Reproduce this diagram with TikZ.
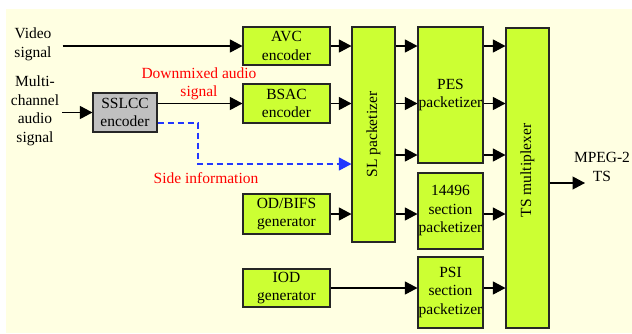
\documentclass[tikz,border=0pt]{standalone}
\usepackage{fontspec}
\setmainfont{Liberation Serif}
\usetikzlibrary{arrows.meta}
\definecolor{bgc}{HTML}{FFFFE2}
\definecolor{boxc}{HTML}{CCFF33}
\definecolor{grayc}{HTML}{C0C0C0}
\definecolor{bluec}{RGB}{35,55,255}
\begin{document}
\begin{tikzpicture}[x=1pt,y=-1pt,
  every node/.style={font=\fontsize{15.5}{18.5}\selectfont},
  blk/.style={draw=black!85,line width=1.1pt,fill=boxc,align=center,inner sep=0pt},
  txt/.style={align=center,inner sep=2pt},
  arr/.style={line width=1.1pt,-{Triangle[length=12.5pt,width=13pt]}},
  side/.style={draw=bluec,line width=1.1pt,dash pattern=on 6pt off 4pt,-{Triangle[length=12.5pt,width=13pt,fill=bluec]}},
  redtxt/.style={text=red,align=center,inner sep=0pt}]
\useasboundingbox (0,0) rectangle (632,333);
\fill[bgc] (6,9) rectangle (632,333);
% boxes
\node[blk,minimum width=87pt,minimum height=38pt] (avc) at (286.5,46) {AVC\\encoder};
\node[blk,minimum width=87pt,minimum height=39pt] (bsac) at (286.5,103.5) {BSAC\\encoder};
\node[blk,fill=grayc,minimum width=64pt,minimum height=39pt] (sslcc) at (125,112.5) {SSLCC\\encoder};
\node[blk,minimum width=87pt,minimum height=40pt] (odbifs) at (286.5,214) {OD/BIFS\\generator};
\node[blk,minimum width=87pt,minimum height=38pt] (iod) at (286.5,288) {IOD\\generator};
\node[blk,minimum width=43pt,minimum height=215pt] (sl) at (373.5,134.5) {};
\node[rotate=90] (sltxt) at (sl) {SL packetizer};
\node[blk,minimum width=65pt,minimum height=136pt] (pes) at (450.5,95) {PES\\packetizer};
\node[blk,minimum width=65pt,minimum height=76pt] (s14496) at (450.5,211) {14496\\section\\packetizer};
\node[blk,minimum width=65pt,minimum height=71pt] (psi) at (450.5,292.5) {PSI\\section\\packetizer};
\node[blk,minimum width=43pt,minimum height=300pt] (ts) at (527.5,178) {};
\node[rotate=90] (tstxt) at (527.5,170.5) {TS multiplexer};
% texts
\node[txt] (video) at (33,44.5) {Video\\signal};
\node[txt] (multi) at (35,111) {Multi-\\channel\\audio\\signal};
\node[redtxt] (down) at (199,84) {Downmixed audio\\signal};
\node[redtxt] (sideinfo) at (206,178) {Side information};
\node[txt] (mpeg) at (602,167) {MPEG-2\\TS};
% coordinates
\coordinate (r3) at (395,155);
\coordinate (sb) at (198,164);
\coordinate (tsout) at (585,183);
% arrows
\draw[arr] ([xshift=9pt]video.east |- avc.west) -- (avc.west);
\draw[arr] ([xshift=1pt]multi.east |- sslcc.west) -- (sslcc.west);
\draw[arr] (sslcc.east |- bsac.west) -- (bsac.west);
\draw[side] ([yshift=-10.5pt]sslcc.east) -| (sb) -- (sb -| sl.west);
\draw[arr] (avc.east) -- (avc.east -| sl.west);
\draw[arr] (bsac.east) -- (bsac.east -| sl.west);
\draw[arr] (odbifs.east) -- (odbifs.east -| sl.west);
\draw[arr] (sl.east |- avc.east) -- (pes.west |- avc.east);
\draw[arr] (sl.east |- bsac.east) -- (pes.west |- bsac.east);
\draw[arr] (r3) -- (r3 -| pes.west);
\draw[arr] (sl.east |- odbifs.east) -- (s14496.west |- odbifs.east);
\draw[arr] (pes.east |- avc.east) -- (ts.west |- avc.east);
\draw[arr] (pes.east |- bsac.east) -- (ts.west |- bsac.east);
\draw[arr] (pes.east |- r3) -- (ts.west |- r3);
\draw[arr] (s14496.east |- odbifs.east) -- (ts.west |- odbifs.east);
\draw[arr] (iod.east) -- (psi.west |- iod.east);
\draw[arr] (psi.east |- iod.east) -- (ts.west |- iod.east);
\draw[arr] (ts.east |- tsout) -- (tsout);
\end{tikzpicture}
\end{document}
